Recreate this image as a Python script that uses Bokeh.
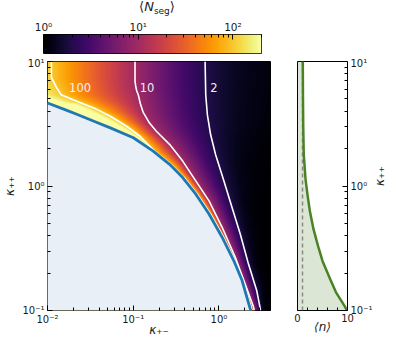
import numpy as np
from bokeh.plotting import figure
from bokeh.layouts import column, row
from bokeh.models import LogColorMapper, Label, FixedTicker, CustomJSTickFormatter, Div
from bokeh.palettes import Inferno256
from bokeh.embed import file_html
from bokeh.resources import INLINE

# ---------------- data ----------------
# boundary (blue line): kappa_+- vs kappa_++
bnd_kpm = [0.01, 0.0157, 0.0223, 0.0348, 0.0541, 0.1005, 0.171, 0.266, 0.378, 0.538, 0.767, 1.09, 1.49, 1.86, 2.31, 2.36]
bnd_kpp = [4.64, 4.13, 3.75, 3.31, 2.93, 2.44, 1.905, 1.493, 1.169, 0.860, 0.596, 0.388, 0.252, 0.175, 0.104, 0.1]
# contour <N_seg> = 100
c100_kpm = [0.0111, 0.0111, 0.0127, 0.0144, 0.0223, 0.0348, 0.0541, 0.0841, 0.120, 0.1775, 0.276, 0.393,
            0.559, 0.798, 1.134, 1.546, 1.93, 2.40, 2.43]
c100_kpp = [10, 7.45, 6.19, 5.41, 4.78, 4.24, 3.63, 3.02, 2.51, 1.905, 1.493, 1.169,
            0.860, 0.596, 0.388, 0.252, 0.175, 0.104, 0.1]
# contour <N_seg> = 10
c10_kpm = [0.105, 0.105, 0.107, 0.110, 0.1146, 0.121, 0.1309, 0.155, 0.1862, 0.2655, 0.378, 0.537, 0.767,
           1.091, 1.553, 2.02, 2.53, 2.58]
c10_kpp = [10, 7.0, 6.3, 5.8, 5.41, 4.6, 3.90, 3.20, 2.75, 2.16, 1.585, 1.10, 0.760,
           0.466, 0.268, 0.164, 0.107, 0.1]
# contour <N_seg> = 2
c2_kpm = [0.690, 0.702, 0.733, 0.800, 0.914, 1.142, 1.423, 1.775, 2.21, 2.76, 3.01, 3.05]
c2_kpp = [10, 5.41, 3.75, 2.59, 1.79, 1.10, 0.673, 0.412, 0.237, 0.145, 0.107, 0.1]
contour_levels = [100, 10, 2]
contour_labels = ["100", "10", "2"]
label_kpm = [0.0240, 0.145, 0.876]
label_kpp = [6.19, 6.19, 6.19]

# right panel: <n> vs kappa_++
n_kpp = [10, 5, 3, 1.8, 1.14, 0.85, 0.62, 0.45, 0.33, 0.25, 0.18, 0.14, 0.109, 0.1]
n_avg = [1.06, 1.1, 1.15, 1.25, 1.6, 2.0, 2.5, 3.2, 4.1, 5.0, 6.5, 7.7, 9.4, 9.9]
n_ref = 1.0

cb_low, cb_high = 1, 200
x_lim = (0.01, 4.0)
y_lim = (0.1, 10.0)

# tick positions
cb_major = [1, 10, 100]
cb_minor = [2, 3, 4, 5, 6, 7, 8, 9, 20, 30, 40, 50, 60, 70, 80, 90, 200]
x_major = [0.01, 0.1, 1]
x_minor = [0.02, 0.03, 0.04, 0.05, 0.06, 0.07, 0.08, 0.09, 0.2, 0.3, 0.4, 0.5, 0.6, 0.7, 0.8, 0.9, 2, 3, 4]
y_major = [0.1, 1, 10]
y_minor = [0.2, 0.3, 0.4, 0.5, 0.6, 0.7, 0.8, 0.9, 2, 3, 4, 5, 6, 7, 8, 9]
n_major = [0, 10]
n_minor = [2, 4, 6, 8]

# ---------------- heat map built from the read contours ----------------
nx, ny = 340, 340
lx = np.linspace(np.log10(x_lim[0]), np.log10(x_lim[1]), nx)
ly = np.linspace(np.log10(y_lim[0]), np.log10(y_lim[1]), ny)


def curve_at(kpm, kpp, yv):
    return np.interp(yv, np.log10(kpp)[::-1], np.log10(kpm)[::-1])


def interp_ext(xq, kx, kv):
    kx = np.asarray(kx); kv = np.asarray(kv)
    v = np.interp(xq, kx, kv)
    lm = xq < kx[0]
    v[lm] = kv[0] + (xq[lm] - kx[0]) * (kv[1] - kv[0]) / (kx[1] - kx[0])
    rm = xq > kx[-1]
    v[rm] = kv[-1] + (xq[rm] - kx[-1]) * (kv[-1] - kv[-2]) / (kx[-1] - kx[-2])
    return v


bmax = np.log10(max(bnd_kpp))
img = np.zeros((ny, nx))
for i, yv in enumerate(ly):
    kx, kv = [], []
    if yv <= bmax:
        kx.append(curve_at(bnd_kpm, bnd_kpp, yv)); kv.append(3.0)
    for cm, cp, lev in [(c100_kpm, c100_kpp, 100), (c10_kpm, c10_kpp, 10), (c2_kpm, c2_kpp, 2)]:
        xk = curve_at(cm, cp, yv)
        if kx and xk <= kx[-1]:
            xk = kx[-1] + 1e-3
        kx.append(xk); kv.append(np.log10(lev - 1))
    img[i] = 1 + 10 ** interp_ext(lx, kx, kv)
img = np.clip(img, cb_low, cb_high)

mapper = LogColorMapper(palette=Inferno256, low=cb_low, high=cb_high)

fmt = CustomJSTickFormatter(code="""
const sup = {"-": "\u207b", "0": "\u2070", "1": "\u00b9", "2": "\u00b2", "3": "\u00b3"};
const e = Math.round(Math.log10(tick));
return "10" + String(e).split("").map(c => sup[c]).join("");
""")

FONT = "DejaVu Sans"
TXT = "#1a1a1a"


def style_axis(ax, size="10px"):
    ax.major_tick_in = 5
    ax.major_tick_out = 0
    ax.minor_tick_in = 3
    ax.minor_tick_out = 0
    ax.axis_line_color = None
    ax.major_tick_line_color = "black"
    ax.minor_tick_line_color = "black"
    ax.major_label_text_font = FONT
    ax.major_label_text_font_size = size
    ax.major_label_text_color = TXT
    ax.major_label_standoff = 3
    ax.axis_label_text_font = FONT
    ax.axis_label_text_font_size = "12px"
    ax.axis_label_text_font_style = "italic"
    ax.axis_label_text_color = TXT


# ---------------- colorbar title ----------------
title = Div(text="&#10216;<i>N</i><span style='font-size:9px;position:relative;top:3px'>seg</span>&#10217;",
            width=314, height=17, margin=0,
            styles={"font-family": "DejaVu Sans", "font-size": "13px", "text-align": "center",
                    "line-height": "14px", "color": TXT})

# ---------------- colorbar figure ----------------
cb = figure(width=262, height=40, x_axis_type="log", x_range=(cb_low, cb_high), y_range=(0, 1),
            x_axis_location="above", y_axis_location=None,
            output_backend="svg", toolbar_location=None,
            min_border_left=43, min_border_right=1, min_border_top=17, min_border_bottom=4)
grad = np.geomspace(cb_low, cb_high, 256)[None, :]
cb.image(image=[grad], x=cb_low, y=0, dw=cb_high - cb_low, dh=1, color_mapper=mapper)
cb.grid.visible = False
cb.outline_line_color = "black"
cb.outline_line_width = 1
style_axis(cb.xaxis[0], "10.5px")
cb.xaxis[0].ticker = FixedTicker(ticks=cb_major, minor_ticks=cb_minor)
cb.xaxis[0].formatter = fmt
cb.xaxis[0].major_label_standoff = 2

# ---------------- main figure ----------------
p = figure(width=275, height=282, x_axis_type="log", y_axis_type="log",
           x_range=x_lim, y_range=y_lim,
           output_backend="svg", toolbar_location=None,
           min_border_left=43, min_border_right=5, min_border_top=4, min_border_bottom=27)
p.image(image=[img], x=x_lim[0], y=y_lim[0], dw=x_lim[1] - x_lim[0], dh=y_lim[1] - y_lim[0],
        color_mapper=mapper)
p.patch(bnd_kpm + [x_lim[0]], bnd_kpp + [y_lim[0]], fill_color="#e8eff6", line_color=None)
for cm, cp in [(c100_kpm, c100_kpp), (c10_kpm, c10_kpp), (c2_kpm, c2_kpp)]:
    p.line(cm, cp, line_color="white", line_width=1.6, line_join="round")
p.line(bnd_kpm, bnd_kpp, line_color="#1f77b4", line_width=2.8, line_join="round")
for t, xk, yk in zip(contour_labels, label_kpm, label_kpp):
    p.add_layout(Label(x=xk, y=yk, text=t, text_font=FONT, text_font_size="11.5px",
                       text_color="#f4eeee", text_align="center", text_baseline="middle"))
p.grid.visible = False
p.outline_line_color = "black"
p.outline_line_width = 1
style_axis(p.xaxis[0])
style_axis(p.yaxis[0])
p.xaxis[0].ticker = FixedTicker(ticks=x_major, minor_ticks=x_minor)
p.yaxis[0].ticker = FixedTicker(ticks=y_major, minor_ticks=y_minor)
p.xaxis[0].formatter = fmt
p.yaxis[0].formatter = fmt
p.xaxis[0].axis_label = "\u03ba\u208a\u208b"
p.xaxis[0].axis_label_standoff = -5
p.yaxis[0].axis_label = "\u03ba\u208a\u208a"
p.yaxis[0].axis_label_standoff = 2

# ---------------- right panel ----------------
q = figure(width=121, height=282, y_axis_type="log", x_range=(0, 10), y_range=y_lim,
           y_axis_location="right", output_backend="svg", toolbar_location=None,
           min_border_left=22, min_border_right=43, min_border_top=4, min_border_bottom=27)
q.harea(y=n_kpp, x1=[0] * len(n_kpp), x2=n_avg, fill_color="#4c8226", fill_alpha=0.2)
q.line([n_ref, n_ref], list(y_lim), line_color="#8a8a8a", line_width=1.5, line_dash="4 3")
q.line(n_avg, n_kpp, line_color="#4c8226", line_width=2.5, line_join="round")
q.grid.visible = False
q.outline_line_color = "black"
q.outline_line_width = 1
style_axis(q.xaxis[0])
style_axis(q.yaxis[0])
q.yaxis[0].ticker = FixedTicker(ticks=y_major, minor_ticks=y_minor)
q.yaxis[0].formatter = fmt
q.xaxis[0].ticker = FixedTicker(ticks=n_major, minor_ticks=n_minor)
q.xaxis[0].axis_label = "\u27e8n\u27e9"
q.xaxis[0].axis_label_standoff = -5
q.yaxis[0].axis_label = "\u03ba\u208a\u208a"
q.yaxis[0].axis_label_standoff = 4
try:
    q.yaxis[0].axis_label_orientation = np.pi / 2
except Exception:
    pass

layout = column(title, cb, row(p, q))
open("out.html", "w").write(file_html(layout, INLINE))
